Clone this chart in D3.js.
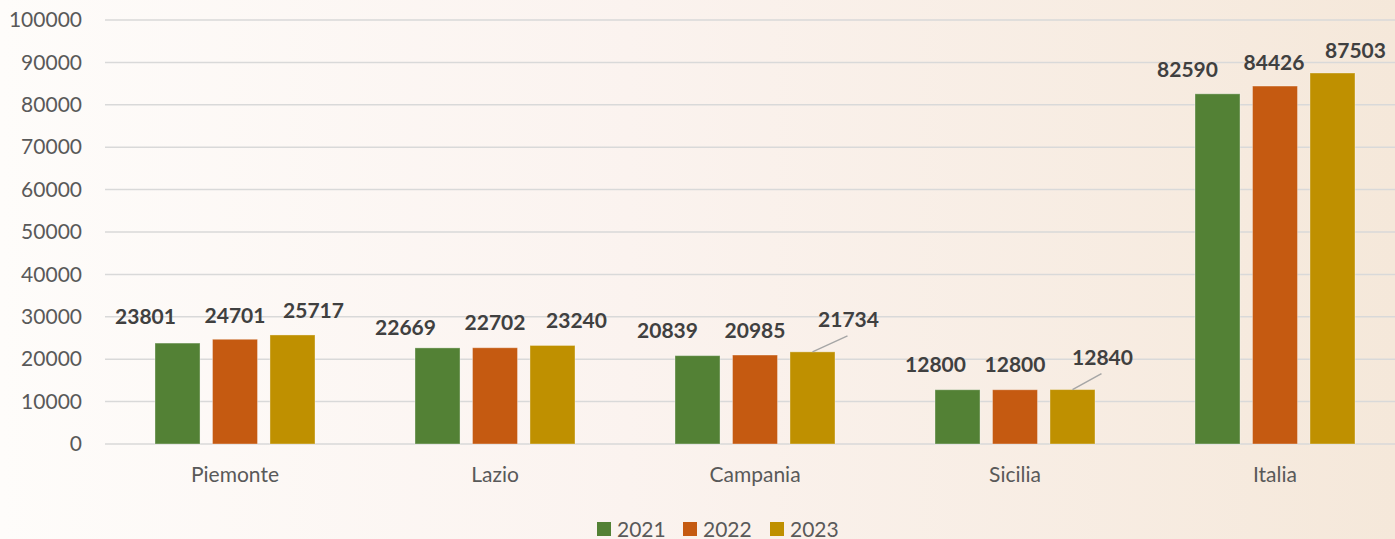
<!DOCTYPE html>
<html>
<head>
<meta charset="utf-8">
<script src="https://cdn.jsdelivr.net/npm/d3@7"></script>
<style>
	html, body { margin: 0; padding: 0; }
	body { width: 1395px; height: 539px; overflow: hidden; }
	text { font-family: Lato, "Open Sans", sans-serif; }
</style>
</head>
<body>
<svg id="chart" width="1395" height="539"></svg>
<script>
	// data
	var regions = ['Piemonte', 'Lazio', 'Campania', 'Sicilia', 'Italia']
	var years = ['2021', '2022', '2023']
	var v2021 = [23801, 22669, 20839, 12800, 82590]
	var v2022 = [24701, 22702, 20985, 12800, 84426]
	var v2023 = [25717, 23240, 21734, 12840, 87503]
	var yTicks = [0, 10000, 20000, 30000, 40000, 50000, 60000, 70000, 80000, 90000, 100000]
	var colors = ['#538135', '#c55a11', '#bf9000']

	// hand-placed label nudges (x from bar centre, y baseline from bar top)
	var labelDx = [[-32, 0, 21], [-32, 0, 24], [-30, 0, 36], [-22, 0, 30], [-30, -1, 23]]
	var labelDy = [[-19, -16, -17], [-13, -18, -17], [-18, -17, -25], [-18, -18, -25], [-17, -16, -15]]
	var leaders = [[2, 2], [3, 2]] // [region, year] with a leader line

	var series = [v2021, v2022, v2023]
	var width = 1395, height = 539

	var svg = d3.select('#chart')

	var grad = svg.append('defs').append('linearGradient')
		.attr('id', 'bg').attr('x1', 0).attr('x2', 1).attr('y1', 0).attr('y2', 0)
	grad.append('stop').attr('offset', 0).attr('stop-color', '#fefcfa')
	grad.append('stop').attr('offset', 0.45).attr('stop-color', '#fbf3ef')
	grad.append('stop').attr('offset', 1).attr('stop-color', '#f5e8da')

	svg.append('rect').attr('width', width).attr('height', height).attr('fill', 'url(#bg)')

	var x = d3.scaleBand().domain(regions).range([105, 1405])
	var xs = d3.scaleBand().domain(years).range([50, 210]).paddingInner(0.217)
	var y = d3.scaleLinear().domain([0, 100000]).range([444, 20])

	// gridlines
	svg.append('g').selectAll('line')
		.data(yTicks)
		.enter().append('line')
		.attr('x1', 105).attr('x2', width)
		.attr('y1', function(d) { return y(d) })
		.attr('y2', function(d) { return y(d) })
		.attr('stroke', '#d9d9d9').attr('stroke-width', 1.5)

	// y axis labels
	var yAxis = svg.append('g')
		.attr('transform', 'translate(82,0)')
		.call(d3.axisLeft(y).tickValues(yTicks).tickSize(0).tickPadding(0).tickFormat(d3.format('d')))
	yAxis.select('.domain').remove()
	yAxis.selectAll('text')
		.attr('fill', '#595959').style('font-size', '21px')

	// x axis labels
	var xAxis = svg.append('g')
		.attr('transform', 'translate(0,467)')
		.call(d3.axisBottom(x).tickSize(0).tickPadding(0))
	xAxis.select('.domain').remove()
	xAxis.selectAll('text')
		.attr('fill', '#595959').style('font-size', '21px')

	var rows = []
	regions.forEach(function(r, i) {
		years.forEach(function(yr, j) {
			rows.push({ region: r, year: yr, i: i, j: j, value: series[j][i] })
		})
	})

	function cx(d) { return x(d.region) + xs(d.year) + xs.bandwidth() / 2 }

	svg.append('g').selectAll('rect')
		.data(rows)
		.enter().append('rect')
		.attr('x', function(d) { return x(d.region) + xs(d.year) })
		.attr('y', function(d) { return y(d.value) })
		.attr('width', xs.bandwidth())
		.attr('height', function(d) { return y(0) - y(d.value) })
		.attr('fill', function(d) { return colors[d.j] })
		.attr('stroke', 'rgba(255,255,255,0.35)').attr('stroke-width', 1)

	// leader lines
	svg.append('g').selectAll('line')
		.data(rows.filter(function(d) {
			return leaders.some(function(l) { return l[0] === d.i && l[1] === d.j })
		}))
		.enter().append('line')
		.attr('x1', function(d) { return cx(d) + labelDx[d.i][d.j] - 1 })
		.attr('y1', function(d) { return y(d.value) + labelDy[d.i][d.j] + 9 })
		.attr('x2', function(d) { return cx(d) })
		.attr('y2', function(d) { return y(d.value) })
		.attr('stroke', '#a6a6a6').attr('stroke-width', 1.5)

	svg.append('g').selectAll('text')
		.data(rows)
		.enter().append('text')
		.attr('x', function(d) { return cx(d) + labelDx[d.i][d.j] })
		.attr('y', function(d) { return y(d.value) + labelDy[d.i][d.j] })
		.attr('text-anchor', 'middle')
		.attr('fill', '#404040')
		.style('font-size', '21px').style('font-weight', 'bold')
		.text(function(d) { return d.value })

	// legend
	var legX = [597, 683, 770]
	var leg = svg.append('g').selectAll('g')
		.data(years)
		.enter().append('g')
		.attr('transform', function(d, i) { return 'translate(' + legX[i] + ',522)' })
	leg.append('rect').attr('width', 14).attr('height', 14)
		.attr('fill', function(d, i) { return colors[i] })
	leg.append('text').attr('x', 20).attr('y', 14.5)
		.attr('fill', '#595959').style('font-size', '21px')
		.text(function(d) { return d })
</script>
</body>
</html>
